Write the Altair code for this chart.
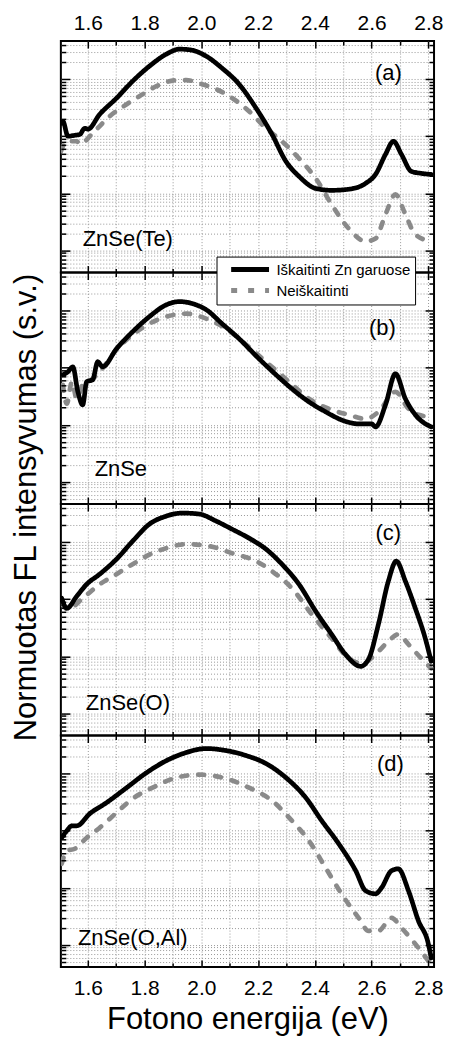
import altair as alt
import pandas as pd

FONT = "Liberation Sans"
SER_T = "Iškaitinti Zn garuose"
SER_N = "Neiškaitinti"
SERIES = [SER_T, SER_N]
COLORS = ["#000000", "#8a8a8a"]

# ---- data (photon energy eV, normalized PL intensity a.u.) ----
# (a) ZnSe(Te)
a_t_E = [1.505, 1.512, 1.530, 1.554, 1.572, 1.589, 1.600, 1.642, 1.701, 1.758, 1.817, 1.877, 1.923, 1.965,
         2.017, 2.073, 2.133, 2.193, 2.249, 2.298, 2.344, 2.403, 2.459, 2.519, 2.579, 2.614, 2.649, 2.677,
         2.705, 2.740, 2.775, 2.810]
a_t_I = [169, 183, 100, 104, 108, 138, 133, 243, 464, 923, 1690, 2750, 3360, 3230,
         2530, 1560, 817, 310, 108, 36.4, 19.9, 12.2, 11.3, 11.8, 15.0, 21.5, 48.3, 81.7,
         48.3, 24.3, 22.4, 21.5]
a_n_E = [1.505, 1.526, 1.561, 1.572, 1.617, 1.677, 1.737, 1.782, 1.842, 1.912, 1.947, 2.003, 2.087, 2.168,
         2.228, 2.284, 2.344, 2.403, 2.459, 2.519, 2.579, 2.614, 2.649, 2.684, 2.719, 2.754, 2.810]
a_n_I = [54.6, 81.7, 81.7, 72.4, 113, 224, 364, 503, 754, 960, 960, 817, 546, 275,
         138, 81.7, 41.1, 18.3, 6.41, 2.43, 1.44, 1.62, 4.28, 9.60, 4.28, 1.91, 1.44]
# (b) ZnSe
b_t_E = [1.512, 1.530, 1.547, 1.565, 1.582, 1.596, 1.617, 1.635, 1.652, 1.701, 1.758, 1.817, 1.877, 1.923,
         1.968, 2.017, 2.073, 2.133, 2.203, 2.263, 2.319, 2.379, 2.438, 2.494, 2.554, 2.600, 2.614, 2.649,
         2.684, 2.719, 2.754, 2.810]
b_t_I = [75.4, 85.1, 104, 37.9, 22.4, 56.8, 61.5, 127, 104, 215, 428, 785, 1270, 1440,
         1330, 1040, 591, 323, 144, 75.4, 42.8, 25.3, 16.9, 12.2, 10.4, 10.4, 9.22, 22.4,
         78.5, 28.6, 15.0, 9.22]
b_n_E = [1.512, 1.526, 1.544, 1.561, 1.582, 1.617, 1.642, 1.701, 1.758, 1.817, 1.877, 1.947, 2.017, 2.087,
         2.158, 2.228, 2.309, 2.379, 2.449, 2.519, 2.579, 2.624, 2.684, 2.730, 2.765, 2.810]
b_n_I = [50.3, 23.4, 56.8, 28.6, 50.3, 64.1, 85.1, 207, 379, 591, 785, 885, 724, 483,
         253, 127, 56.8, 28.6, 19.1, 15.0, 12.7, 16.9, 37.9, 19.1, 15.0, 13.8]
# (c) ZnSe(O)
c_t_E = [1.508, 1.526, 1.561, 1.596, 1.642, 1.701, 1.758, 1.817, 1.877, 1.933, 1.993, 2.052, 2.108, 2.168,
         2.228, 2.284, 2.344, 2.403, 2.459, 2.508, 2.561, 2.589, 2.624, 2.659, 2.687, 2.719, 2.754, 2.789,
         2.810]
c_t_I = [104, 69.5, 113, 183, 275, 503, 1040, 2070, 2860, 3230, 3100, 2340, 1690, 1175,
         754, 411, 183, 61.5, 24.3, 10.8, 6.68, 8.86, 36.4, 207, 464, 207, 69.5, 20.7,
         8.17]
c_n_E = [1.508, 1.530, 1.582, 1.642, 1.701, 1.758, 1.828, 1.877, 1.947, 2.028, 2.108, 2.193, 2.249, 2.319,
         2.389, 2.459, 2.519, 2.565, 2.624, 2.666, 2.694, 2.730, 2.775, 2.810]
c_n_I = [81.7, 66.8, 104, 183, 275, 411, 641, 785, 923, 851, 641, 464, 310, 156,
         54.6, 20.7, 9.22, 7.54, 12.2, 19.9, 24.3, 16.2, 9.22, 6.16]
# (d) ZnSe(O,Al)
d_t_E = [1.508, 1.526, 1.544, 1.561, 1.607, 1.666, 1.737, 1.807, 1.877, 1.947, 2.017, 2.087, 2.158, 2.228,
         2.298, 2.368, 2.424, 2.484, 2.544, 2.579, 2.614, 2.635, 2.670, 2.694, 2.730, 2.765, 2.800, 2.810]
d_t_I = [75.4, 100, 122, 122, 199, 310, 568, 1040, 1690, 2340, 2750, 2530, 2070, 1500,
         851, 379, 150, 59.2, 19.9, 8.86, 7.85, 10, 19.9, 21.5, 8.86, 2.64, 1.04, 0.59]
d_n_E = [1.508, 1.526, 1.554, 1.596, 1.642, 1.701, 1.758, 1.828, 1.912, 1.993, 2.087, 2.168, 2.249, 2.319,
         2.379, 2.438, 2.494, 2.554, 2.589, 2.624, 2.670, 2.705, 2.754, 2.800]
d_n_I = [26.4, 44.6, 48.3, 75.4, 113, 207, 364, 568, 851, 960, 817, 568, 336, 150,
         66.8, 22.4, 7.85, 2.98, 1.76, 1.76, 2.98, 1.99, 1.04, 0.524]

# panel annotations (placed in data coordinates)
tag_text = ["(a)", "(b)", "(c)", "(d)"]
tag_E = [2.659, 2.638, 2.659, 2.666]
tag_I = [1276, 503, 1440, 1500]
name_text = ["ZnSe(Te)", "ZnSe", "ZnSe(O)", "ZnSe(O,Al)"]
name_E = [1.582, 1.624, 1.593, 1.565]
name_I = [1.56, 1.69, 1.50, 1.33]

# axes / ticks
X_DOMAIN = [1.505, 2.82]
Y_DOMAIN = [0.41, 4650]
X_MAJOR = [1.6, 1.8, 2.0, 2.2, 2.4, 2.6, 2.8]
X_MINOR = [1.7, 1.9, 2.1, 2.3, 2.5, 2.7]
X_GRID = sorted(X_MAJOR + X_MINOR)
Y_MAJOR = [1, 10, 100, 1000]
Y_MINOR = [0.5, 0.6, 0.7, 0.8, 0.9, 2, 3, 4, 5, 6, 7, 8, 9, 20, 30, 40, 50, 60, 70, 80, 90,
           200, 300, 400, 500, 600, 700, 800, 900, 2000, 3000, 4000]
Y_GRID = sorted(Y_MAJOR + Y_MINOR)

W, H = 374, 232

xs = alt.Scale(domain=X_DOMAIN, nice=False, zero=False)
ys = alt.Scale(type="log", domain=Y_DOMAIN, nice=False)


def tick_axis(orient, values, size):
    return alt.Axis(orient=orient, values=values, tickSize=size, offset=-size, ticks=True,
                    tickWidth=1.5, tickColor="black", labels=False, domain=False, grid=False,
                    title=None, zindex=2)


def grid_axis(orient, values):
    return alt.Axis(orient=orient, values=values, grid=True, gridDash=[1, 2], gridColor="#999999",
                    gridWidth=1, ticks=False, labels=False, domain=False, title=None, zindex=0)


def gx(df, axis):
    return alt.Chart(df).mark_point(opacity=0).encode(
        x=alt.X("E:Q", scale=xs, axis=axis), y=alt.Y("I:Q", scale=ys, axis=None))


def gy(df, axis):
    return alt.Chart(df).mark_point(opacity=0).encode(
        x=alt.X("E:Q", scale=xs, axis=None), y=alt.Y("I:Q", scale=ys, axis=axis))


def panel(k, tE, tI, nE, nI, top_labels=False, bottom_labels=False, legend=False):
    df_t = pd.DataFrame({"E": tE, "I": tI, "series": SER_T})
    df_n = pd.DataFrame({"E": nE, "I": nI, "series": SER_N})
    gdf = df_t.iloc[:2]

    if legend:
        leg = alt.Legend(title=None, orient="none", legendX=156, legendY=-16, direction="vertical",
                         fillColor="white", strokeColor="black", padding=4, zindex=10,
                         labelFontSize=15, labelFont=FONT, labelColor="black",
                         symbolType="M-1,0H5", symbolSize=160, symbolStrokeWidth=5,
                         symbolOffset=8, labelOffset=30, rowPadding=1)
    else:
        leg = None

    def line(df):
        return alt.Chart(df).mark_line(strokeWidth=4.7, strokeCap="round", clip=True,
                                       interpolate="monotone").encode(
            x=alt.X("E:Q", scale=xs, axis=None),
            y=alt.Y("I:Q", scale=ys, axis=None),
            color=alt.Color("series:N", scale=alt.Scale(domain=SERIES, range=COLORS), legend=leg),
            strokeDash=alt.StrokeDash("series:N",
                                      scale=alt.Scale(domain=SERIES, range=[[1, 0], [6, 11]]),
                                      legend=leg),
        )

    tag_df = pd.DataFrame({"E": [tag_E[k]], "I": [tag_I[k]], "t": [tag_text[k]]})
    name_df = pd.DataFrame({"E": [name_E[k]], "I": [name_I[k]], "t": [name_text[k]]})
    tag = alt.Chart(tag_df).mark_text(font=FONT, fontSize=22, align="center", baseline="middle",
                                       color="black").encode(
        x=alt.X("E:Q", scale=xs, axis=None), y=alt.Y("I:Q", scale=ys, axis=None), text="t:N")
    name = alt.Chart(name_df).mark_text(font=FONT, fontSize=22, align="left", baseline="middle",
                                         color="black").encode(
        x=alt.X("E:Q", scale=xs, axis=None), y=alt.Y("I:Q", scale=ys, axis=None), text="t:N")

    layers = [
        gx(gdf, grid_axis("bottom", X_GRID)),
        gy(gdf, grid_axis("left", Y_GRID)),
        line(df_n),
        line(df_t),
        tag,
        name,
        gx(gdf, tick_axis("top", X_MAJOR, 7)),
        gx(gdf, tick_axis("top", X_MINOR, 4)),
        gx(gdf, tick_axis("bottom", X_MAJOR, 7)),
        gx(gdf, tick_axis("bottom", X_MINOR, 4)),
        gy(gdf, tick_axis("left", Y_MAJOR, 9)),
        gy(gdf, tick_axis("left", Y_MINOR, 5)),
        gy(gdf, tick_axis("right", Y_MAJOR, 9)),
        gy(gdf, tick_axis("right", Y_MINOR, 5)),
    ]
    if top_labels:
        layers.append(gx(gdf, alt.Axis(orient="top", values=X_MAJOR, format=".1f", ticks=False,
                                       tickSize=0, domain=False, grid=False, labelFontSize=21,
                                       labelFont=FONT, labelColor="black", labelPadding=8,
                                       labelFlush=False, title=None)))
    if bottom_labels:
        layers.append(gx(gdf, alt.Axis(orient="bottom", values=X_MAJOR, format=".1f", ticks=False,
                                       tickSize=0, domain=False, grid=False, labelFontSize=21,
                                       labelFont=FONT, labelColor="black", labelPadding=11,
                                       labelFlush=False, title="Fotono energija (eV)",
                                       titleFont=FONT, titleFontSize=31, titleFontWeight="normal",
                                       titleColor="black", titlePadding=6)))
    return alt.layer(*layers).resolve_axis(x="independent", y="independent").properties(
        width=W, height=H)


pa = panel(0, a_t_E, a_t_I, a_n_E, a_n_I, top_labels=True)
pb = panel(1, b_t_E, b_t_I, b_n_E, b_n_I, legend=True)
pc = panel(2, c_t_E, c_t_I, c_n_E, c_n_I)
pd_ = panel(3, d_t_E, d_t_I, d_n_E, d_n_I, bottom_labels=True)

chart = alt.vconcat(pa, pb, pc, pd_, spacing=0, bounds="flush").resolve_legend(
    color="independent", strokeDash="independent"
).properties(
    title=alt.TitleParams(text="Normuotas FL intensyvumas (s.v.)", orient="left", anchor="middle",
                          fontSize=31, fontWeight="normal", font=FONT, color="black", offset=14,
                          dx=16),
    padding={"left": 11, "top": 10, "right": 5, "bottom": 5},
).configure_view(stroke="black", strokeWidth=2).configure_axis(
    labelFont=FONT, titleFont=FONT)

chart.save("out.html", embed_options={"renderer": "svg", "actions": False})
